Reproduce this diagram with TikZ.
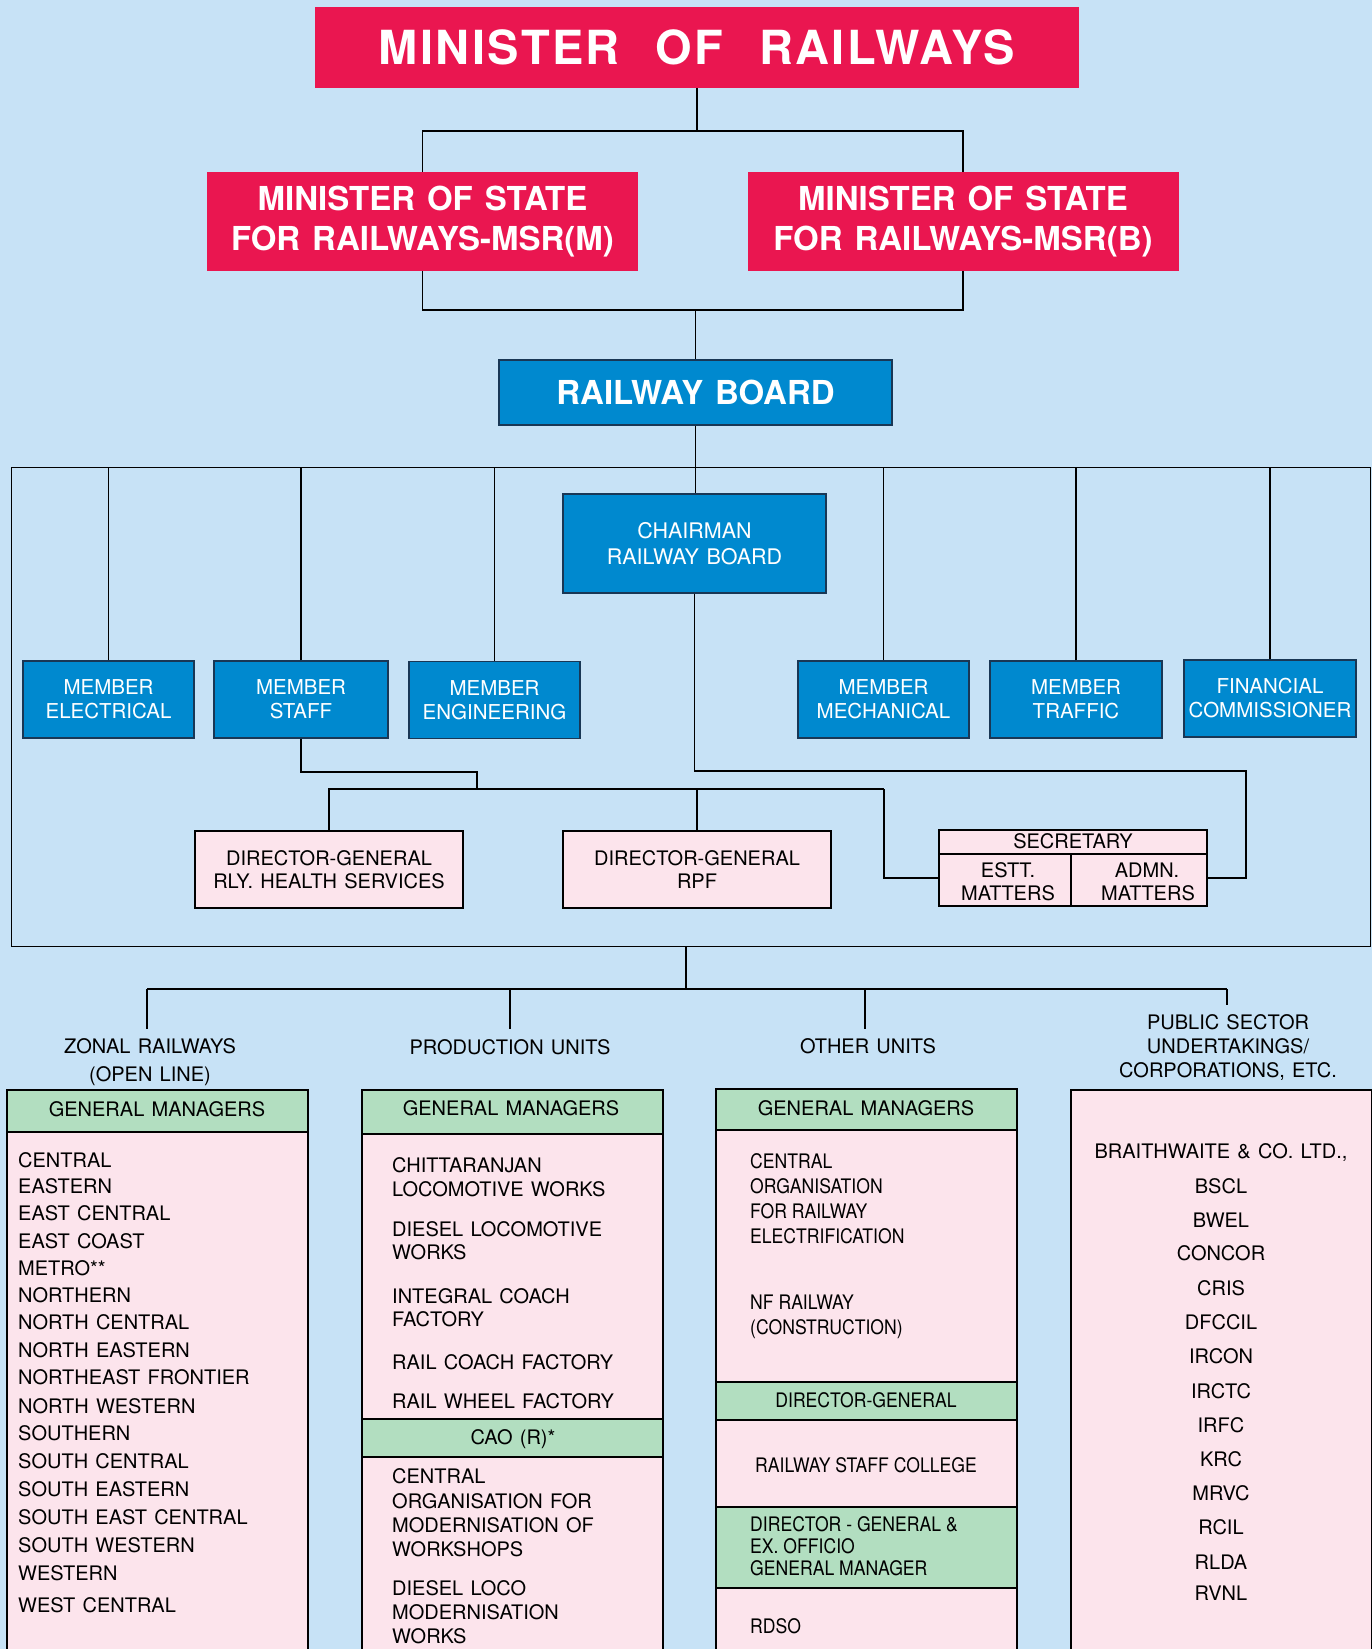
\documentclass[tikz,border=0pt]{standalone}
\usepackage{fontspec}
\setmainfont{TeX Gyre Heros}[WordSpace=1.3]
\newfontfamily\condfont{TeX Gyre Heros}[FakeStretch=0.88]
\definecolor{bgblue}{RGB}{199,226,246}
\definecolor{mred}{RGB}{234,22,80}
\definecolor{mblue}{RGB}{0,137,207}
\definecolor{mnavy}{RGB}{25,55,85}
\definecolor{mpink}{RGB}{252,228,236}
\definecolor{mgreen}{RGB}{178,222,192}
\tikzset{
  conn/.style={draw=black, line width=1.4pt},
  redbox/.style={fill=mred, text=white, inner sep=0pt, align=center},
  bluebox/.style={fill=mblue, draw=mnavy, line width=1.3pt, text=white, inner sep=0pt, align=center,
    font=\fontsize{20.5}{24}\selectfont},
  pinkbox/.style={fill=mpink, draw=black, line width=1.5pt, inner sep=0pt, align=center,
    font=\fontsize{20}{23}\selectfont},
  greenbox/.style={fill=mgreen, draw=black, line width=1.5pt, inner sep=0pt},
  txt/.style={inner sep=0pt, font=\fontsize{20}{24}\selectfont},
  ctxt/.style={inner sep=0pt, font=\condfont\fontsize{20}{24}\selectfont},
}
\begin{document}
\begin{tikzpicture}[x=1pt,y=-1pt]
\useasboundingbox (0,0) rectangle (1372,1649);
\fill[bgblue] (0,0) rectangle (1372,1649);
\clip (0,0) rectangle (1372,1649);

% ---------- top ----------
\node[redbox, minimum width=764, minimum height=81,
  font=\bfseries\fontsize{47}{50}\selectfont\addfontfeature{LetterSpace=5}]
  (mor) at (697,47.5) {MINISTER\hspace{16pt} OF\hspace{16pt} RAILWAYS};
\node[redbox, minimum width=431, minimum height=99, font=\bfseries\fontsize{33}{40}\selectfont]
  (msm) at (422.5,221.5) {MINISTER OF STATE\\FOR RAILWAYS-MSR(M)};
\node[redbox, minimum width=431, minimum height=99, font=\bfseries\fontsize{33}{40}\selectfont]
  (msb) at (963,221.5) {MINISTER OF STATE\\FOR RAILWAYS-MSR(B)};
\node[bluebox, minimum width=393, minimum height=65, font=\bfseries\fontsize{33}{40}\selectfont]
  (rb) at (695.5,392.5) {RAILWAY BOARD};

\coordinate (tj) at (697,131);
\coordinate (bj) at (695.5,310);
\draw[conn] (mor.south) -- (tj);
\draw[conn] (msm.north) |- (tj) -| (msb.north);
\draw[conn] (msm.south) |- (bj) -| (msb.south);
\draw[conn] (bj) -- (rb.north);

% ---------- board frame ----------
\node[draw=black, line width=1.4pt, minimum width=1359, minimum height=479, inner sep=0pt,
  anchor=north west] (frame) at (11,467) {};

\node[bluebox, minimum width=263, minimum height=99, font=\fontsize{21.5}{26}\selectfont]
  (ch) at (694.5,543.5) {CHAIRMAN\\RAILWAY BOARD};
\draw[conn] (rb.south) -- (rb.south |- ch.north);

\node[bluebox, minimum width=171, minimum height=77] (me) at (108.5,699.5) {MEMBER\\ELECTRICAL};
\node[bluebox, minimum width=174, minimum height=77] (ms) at (301,699.5) {MEMBER\\STAFF};
\node[bluebox, minimum width=171, minimum height=77] (meng) at (494.5,700) {MEMBER\\ENGINEERING};
\node[bluebox, minimum width=171, minimum height=77] (mm) at (883.5,699.5) {MEMBER\\MECHANICAL};
\node[bluebox, minimum width=172, minimum height=77] (mt) at (1076,699.5) {MEMBER\\TRAFFIC};
\node[bluebox, minimum width=172, minimum height=77] (fc) at (1270,698.5) {FINANCIAL\\COMMISSIONER};
\foreach \m in {me,ms,meng,mm,mt,fc}
  \draw[conn] (\m.north) -- (\m.north |- frame.north);

\node[pinkbox, minimum width=268, minimum height=77] (dgh) at (329,869.5)
  {DIRECTOR-GENERAL\\RLY. HEALTH SERVICES};
\node[pinkbox, minimum width=268, minimum height=77] (dgr) at (697,869.5)
  {DIRECTOR-GENERAL\\RPF};
\node[pinkbox, minimum width=268, minimum height=76] (sec) at (1073,868) {};
\draw[line width=1.5pt] (sec.west |- 0,854) -- (sec.east |- 0,854);
\draw[line width=1.5pt] (1071,854) -- (1071,906);
\node[txt, anchor=base] (sect) at (1073,848) {SECRETARY};
\node[txt, anchor=base] (es1) at (1008,877) {ESTT.};
\node[txt, anchor=base] (es2) at (1008,900) {MATTERS};
\node[txt, anchor=base] (ad1) at (1147,877) {ADMN.};
\node[txt, anchor=base] (ad2) at (1148,900) {MATTERS};

\coordinate (sA) at (477,772);
\coordinate (sB) at (477,789);
\coordinate (sC) at (884,789);
\coordinate (secw) at (939,878);
\coordinate (cA) at (1246,771);
\coordinate (sece) at (1207,878);
\draw[conn] (ms.south) |- (sA) -- (sB);
\draw[conn] (dgh.north) |- (sC);
\draw[conn] (dgr.north) -- (dgr.north |- sC);
\draw[conn] (sC) |- (secw);
\draw[conn] (ch.south) |- (cA) |- (sece);

% ---------- lower branches ----------
\coordinate (fb) at (686,946);
\coordinate (h1) at (147,989);
\coordinate (h2) at (510,989);
\coordinate (h3) at (865,989);
\coordinate (h4) at (1227,989);
\coordinate (d1) at (147,1029);
\coordinate (d2) at (510,1029);
\coordinate (d3) at (865,1029);
\coordinate (d4) at (1227,1005);
\draw[conn] (fb) -- (fb |- h1);
\draw[conn] (h1) -- (h4);
\draw[conn] (h1) -- (d1);
\draw[conn] (h2) -- (d2);
\draw[conn] (h3) -- (d3);
\draw[conn] (h4) -- (d4);

\node[txt, anchor=base] (zl1) at (150,1053) {ZONAL RAILWAYS};
\node[txt, anchor=base] (zl2) at (150,1081) {(OPEN LINE)};
\node[txt, anchor=base] (pl) at (510,1054) {PRODUCTION UNITS};
\node[txt, anchor=base] (ol) at (868,1053) {OTHER UNITS};
\node[txt, anchor=base] (ul1) at (1228,1029) {PUBLIC SECTOR};
\node[txt, anchor=base] (ul2) at (1228,1053) {UNDERTAKINGS/};
\node[txt, anchor=base] (ul3) at (1228,1077) {CORPORATIONS, ETC.};

% zonal
\node[pinkbox, anchor=north west, minimum width=301, minimum height=620] (zb) at (6,1089) {};
\node[greenbox, anchor=north west, minimum width=301, minimum height=42] (zh) at (6,1089) {};
\node[txt, anchor=base] (zht) at (157,1116) {GENERAL MANAGERS};
\foreach \t/\y [count=\i] in {CENTRAL/1167, EASTERN/1193, EAST CENTRAL/1220, EAST COAST/1248,
  METRO**/1275, NORTHERN/1302, NORTH CENTRAL/1329, NORTH EASTERN/1357, NORTHEAST FRONTIER/1384,
  NORTH WESTERN/1413, SOUTHERN/1440, SOUTH CENTRAL/1468, SOUTH EASTERN/1496,
  SOUTH EAST CENTRAL/1524, SOUTH WESTERN/1552, WESTERN/1580, WEST CENTRAL/1612}
  \node[txt, anchor=base west] (z\i) at (18,\y) {\t};

% production
\node[pinkbox, anchor=north west, minimum width=301, minimum height=620] (pb) at (361,1089) {};
\node[greenbox, anchor=north west, minimum width=301, minimum height=44] (ph) at (361,1089) {};
\node[txt, anchor=base] (pht) at (511,1115) {GENERAL MANAGERS};
\node[greenbox, anchor=north west, minimum width=301, minimum height=38] (cao) at (361,1418) {};
\node[txt, anchor=base] (caot) at (513,1444) {CAO (R)*};
\foreach \t/\y [count=\i] in {CHITTARANJAN/1172, LOCOMOTIVE WORKS/1196, DIESEL LOCOMOTIVE/1236,
  WORKS/1259, INTEGRAL COACH/1303, FACTORY/1326, RAIL COACH FACTORY/1369, RAIL WHEEL FACTORY/1408,
  CENTRAL/1483, ORGANISATION FOR/1508, MODERNISATION OF/1532, WORKSHOPS/1556,
  DIESEL LOCO/1595, MODERNISATION/1619, WORKS/1643}
  \node[txt, anchor=base west] (p\i) at (392,\y) {\t};

% other units
\node[pinkbox, anchor=north west, minimum width=301, minimum height=620] (ob) at (715,1088) {};
\node[greenbox, anchor=north west, minimum width=301, minimum height=41] (oh) at (715,1088) {};
\node[txt, anchor=base] (oht) at (866,1115) {GENERAL MANAGERS};
\node[greenbox, anchor=north west, minimum width=301, minimum height=38] (odg) at (715,1381) {};
\node[ctxt, anchor=base] (odgt) at (866,1407) {DIRECTOR-GENERAL};
\node[greenbox, anchor=north west, minimum width=301, minimum height=81] (odx) at (715,1506) {};
\foreach \t/\y [count=\i] in {CENTRAL/1168, ORGANISATION/1193, FOR RAILWAY/1218,
  ELECTRIFICATION/1243, NF RAILWAY/1309, (CONSTRUCTION)/1334,
  DIRECTOR - GENERAL \&/1531, EX. OFFICIO/1553, GENERAL MANAGER/1575, RDSO/1633}
  \node[ctxt, anchor=base west] (o\i) at (750,\y) {\t};
\node[ctxt, anchor=base] (orsc) at (866,1472) {RAILWAY STAFF COLLEGE};

% PSU
\node[pinkbox, anchor=north west, minimum width=301, minimum height=620] (ub) at (1070,1089) {};
\node[txt, anchor=base] (u0) at (1221,1158) {BRAITHWAITE \& CO. LTD.,};
\foreach \t/\y [count=\i] in {BSCL/1193, BWEL/1227, CONCOR/1260, CRIS/1295, DFCCIL/1329,
  IRCON/1363, IRCTC/1398, IRFC/1432, KRC/1466, MRVC/1500, RCIL/1534, RLDA/1569, RVNL/1600}
  \node[txt, anchor=base] (u\i) at (1221,\y) {\t};
\end{tikzpicture}
\end{document}
